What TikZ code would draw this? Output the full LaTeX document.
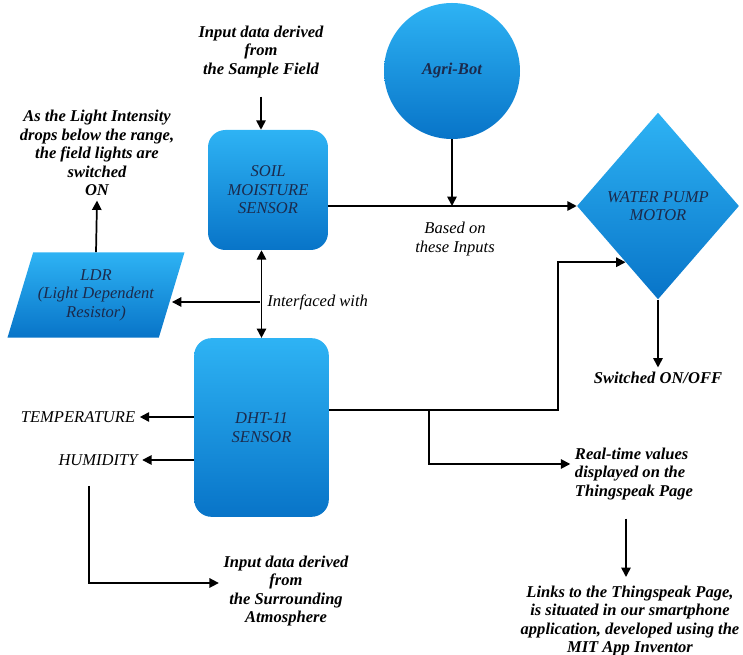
\documentclass[tikz,border=0pt]{standalone}
\usepackage{fontspec}
\setmainfont{Liberation Serif}
\usetikzlibrary{positioning,arrows.meta,shapes.geometric}

\definecolor{blueTop}{HTML}{2EB3F4}
\definecolor{blueBot}{HTML}{0874C8}
\definecolor{navyText}{HTML}{1B2A4C}

\begin{document}
\begin{tikzpicture}[
  x=0.75pt, y=-0.75pt,
  font=\fontsize{12.4}{13.9}\selectfont,
  sensor/.style={
    rectangle,
    rounded corners=13pt,
    top color=blueTop,
    bottom color=blueBot,
    draw=none,
    align=center,
    text=navyText,
    font=\fontsize{12.4}{13.9}\selectfont\itshape
  },
  bot/.style={
    circle,
    minimum size=102pt,
    top color=blueTop,
    bottom color=blueBot,
    text=navyText,
    font=\fontsize{12.4}{13.9}\selectfont\bfseries\itshape
  },
  motor/.style={
    diamond,
    minimum width=121.5pt,
    minimum height=140pt,
    top color=blueTop,
    bottom color=blueBot,
    align=center,
    text=navyText,
    font=\fontsize{12.4}{13.9}\selectfont\itshape
  },
  ldrshape/.style={
    trapezium,
    trapezium left angle=67,
    trapezium right angle=113,
    trapezium stretches=true,
    minimum width=133pt,
    minimum height=64pt,
    top color=blueTop,
    bottom color=blueBot,
    align=center,
    text=navyText,
    font=\fontsize{12.4}{13.9}\selectfont\itshape
  },
  note/.style={align=center, font=\fontsize{12.4}{13.9}\selectfont\bfseries\itshape},
  plain/.style={align=center, font=\fontsize{12.4}{13.9}\selectfont\itshape},
  arrow/.style={-{Triangle[length=7pt,width=7pt]}, line width=1.3pt},
  dblarrow/.style={{Triangle[length=7pt,width=7pt]}-{Triangle[length=7pt,width=7pt]}, line width=1.3pt}
]
\useasboundingbox (0,0) rectangle (743,655);

% main blocks
\node[sensor, minimum width=90pt, minimum height=90pt] (soil) at (268,190) {SOIL\\MOISTURE\\SENSOR};
\node[sensor, minimum width=101pt, minimum height=134pt] (dht) at (261.5,427.5) {DHT-11\\SENSOR};
\node[bot] (agri) at (452,71) {Agri-Bot};
\node[motor] (pump) at (658,206) {WATER PUMP\\MOTOR};
\node[ldrshape] (ldr) at (96,295) {LDR\\(Light Dependent\\Resistor)};

% notes
\node[note] (sfin) at (261,52) {Input data derived\\from\\the Sample Field};
\node[note] (light) at (97,153) {As the Light Intensity\\drops below the range,\\the field lights are\\switched\\ON};
\node[note] (sw) at (658,378) {Switched ON/OFF};
\node[note, align=left] (rtv) at (634,474) {Real-time values\\displayed on the\\Thingspeak Page};
\node[note] (links) at (630,621) {Links to the Thingspeak Page,\\is situated in our smartphone\\application, developed using the\\MIT App Inventor};
\node[note] (atmo) at (286,591) {Input data derived\\from\\the Surrounding\\Atmosphere};
\node[plain] (temp) at (78,417) {TEMPERATURE};
\node[plain] (hum) at (98,460) {HUMIDITY};
\node[plain] (based) at (455,239) {Based on\\these Inputs};

% junctions
\coordinate (ifc) at (260,302);
\coordinate (jn) at (558,410);
\coordinate (br) at (429,410);
\coordinate (hdrop) at (89,486);
\node[plain, right=2pt of ifc] (ifctext) {Interfaced with};

% connectors
\draw[arrow] (sfin.south) ++(0,14) -- (soil.north -| sfin.south);
\draw[arrow] (agri.south) -- (agri.south |- pump.west);
\draw[arrow] (soil.east |- pump.west) -- (pump.west);
\draw[dblarrow] (dht.north |- soil.south) -- (dht.north);
\draw[arrow] (ifc) -- (ifc -| ldr.east);
\draw[arrow] (ldr.north) -- (light.south);
\draw[arrow] (dht.west |- temp) -- (temp.east);
\draw[arrow] (dht.west |- hum) -- (hum.east);
\draw[arrow] (hdrop) |- ([yshift=6pt]atmo.west);
\draw[arrow] (dht.east |- jn) -| (jn |- pump.240) -- (pump.240);
\draw[arrow] (br) |- ([yshift=7.5pt]rtv.west);
\draw[arrow] (pump.south) -- (sw.north);
\draw[arrow] (rtv.south -| 626,0) ++(0,14) -- (626,577);

\end{tikzpicture}
\end{document}
